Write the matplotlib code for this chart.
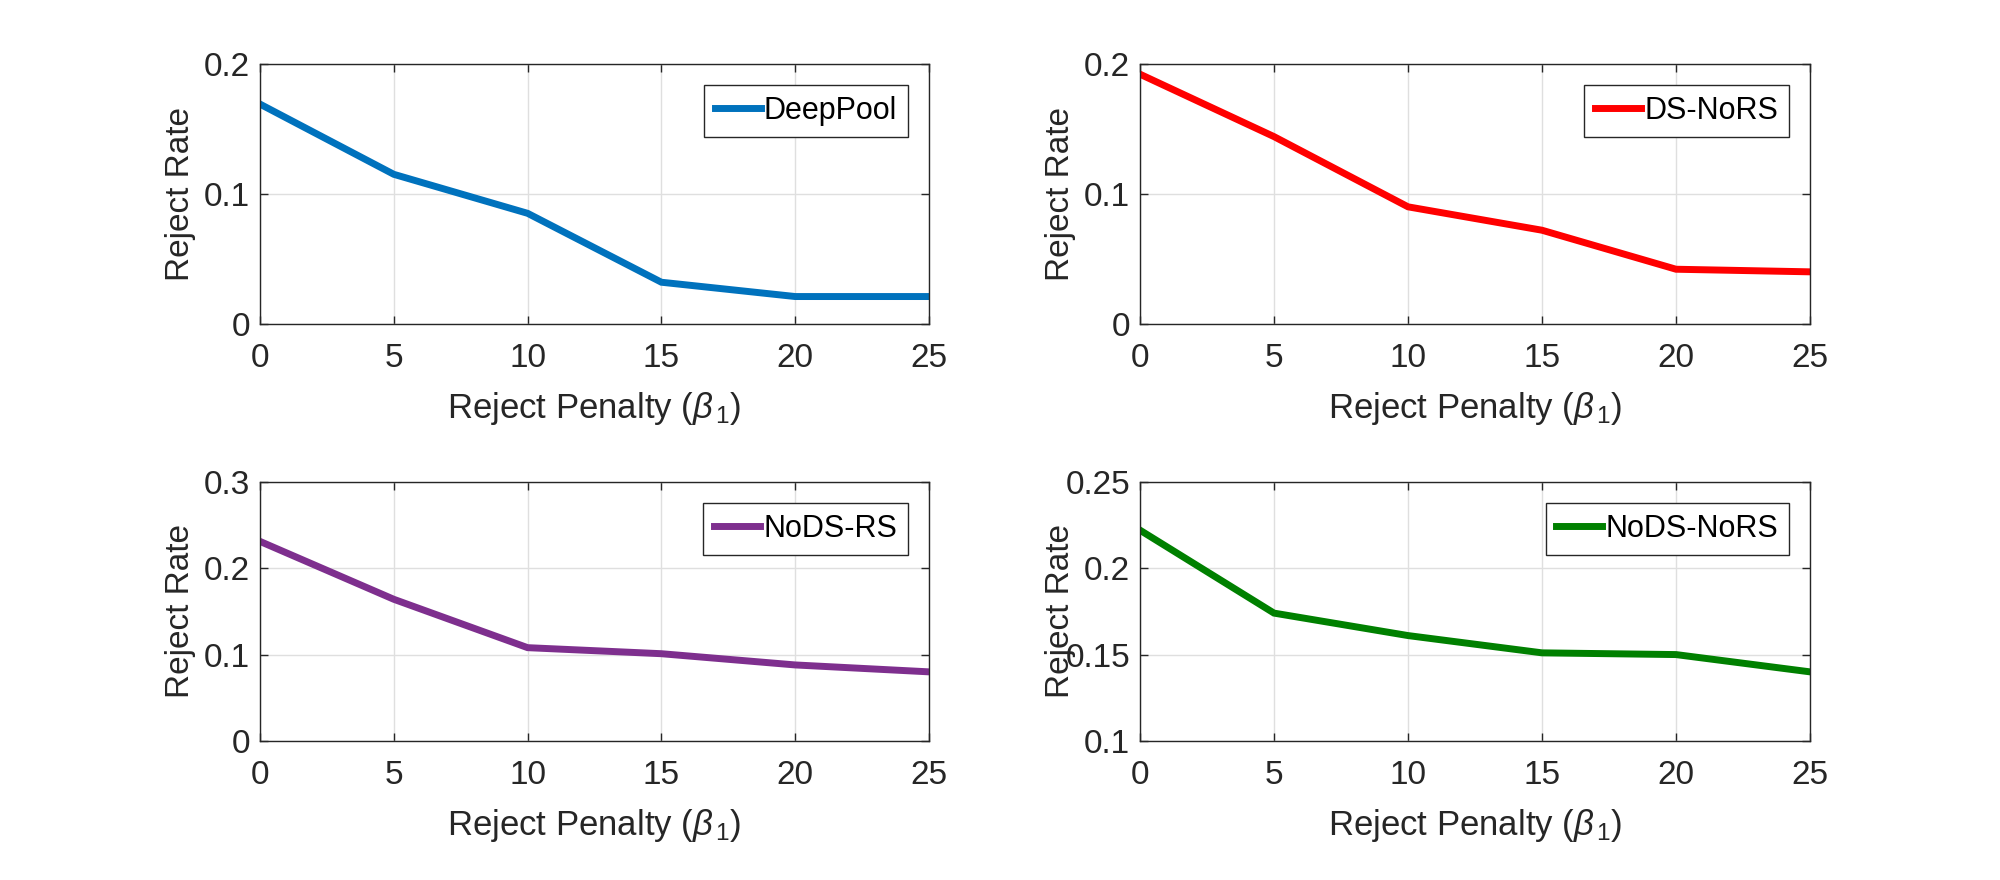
import numpy as np
import matplotlib
matplotlib.use("Agg")
import matplotlib.pyplot as plt

# reject penalty values (x axis)
penalty = [0, 5, 10, 15, 20, 25]

# reject rate per method
deeppool = [0.169, 0.115, 0.085, 0.032, 0.021, 0.021]
ds_nors = [0.192, 0.144, 0.090, 0.072, 0.042, 0.040]
nods_rs = [0.231, 0.164, 0.108, 0.101, 0.088, 0.080]
nods_nors = [0.222, 0.174, 0.161, 0.151, 0.150, 0.140]

names = ["DeepPool", "DS-NoRS", "NoDS-RS", "NoDS-NoRS"]
colors = ["#0072BD", "#FF0000", "#7E2F8E", "#008000"]
ylims = [(0, 0.2), (0, 0.2), (0, 0.3), (0.1, 0.25)]
yticks = [[0, 0.1, 0.2], [0, 0.1, 0.2], [0, 0.1, 0.2, 0.3], [0.1, 0.15, 0.2, 0.25]]
ytick_labels = [["0", "0.1", "0.2"], ["0", "0.1", "0.2"],
                ["0", "0.1", "0.2", "0.3"], ["0.1", "0.15", "0.2", "0.25"]]
series = [deeppool, ds_nors, nods_rs, nods_nors]

plt.rcParams['font.family'] = ['Liberation Sans', 'DejaVu Sans']
plt.rcParams['mathtext.fontset'] = 'custom'
plt.rcParams['mathtext.it'] = 'Liberation Sans:italic'
plt.rcParams['mathtext.rm'] = 'Liberation Sans'

fig = plt.figure(figsize=(20, 8.8), dpi=100)

# axes boxes in figure fractions: [left, bottom, width, height]
boxes = [
    [0.130, 0.632, 0.3345, 0.2955],
    [0.570, 0.632, 0.335, 0.2955],
    [0.130, 0.158, 0.3345, 0.2945],
    [0.570, 0.158, 0.335, 0.2945],
]

ink = "#262626"
for i in range(4):
    ax = fig.add_axes(boxes[i])
    ax.plot(penalty, series[i], color=colors[i], linewidth=5, label=names[i],
            solid_joinstyle='miter')
    ax.set_xlim(0, 25)
    ax.set_ylim(*ylims[i])
    ax.set_xticks(penalty)
    ax.set_yticks(yticks[i])
    ax.set_yticklabels(ytick_labels[i])
    ax.grid(True, color="#DFDFDF", linewidth=1)
    ax.set_axisbelow(True)
    ax.tick_params(direction='in', top=True, right=True, length=6, width=1,
                   colors=ink, labelsize=24)
    ax.tick_params(axis='x', pad=14)
    ax.tick_params(axis='y', pad=7)
    for s in ax.spines.values():
        s.set_color(ink)
        s.set_linewidth(1)
    ax.set_xlabel(r"Reject Penalty ($\beta_{\,1}$)", fontsize=25, color=ink)
    ax.set_ylabel("Reject Rate", fontsize=24, color=ink)
    ax.xaxis.set_label_coords(0.5, -0.255)
    ax.yaxis.set_label_coords(-0.095, 0.5)
    leg = ax.legend(loc='upper right', fontsize=22, fancybox=False,
                    edgecolor=ink, framealpha=1, borderaxespad=0.7,
                    handlelength=1.5, handletextpad=0.1, borderpad=0.35)
    leg.get_frame().set_linewidth(1)

fig.savefig("out.png", dpi=100)
